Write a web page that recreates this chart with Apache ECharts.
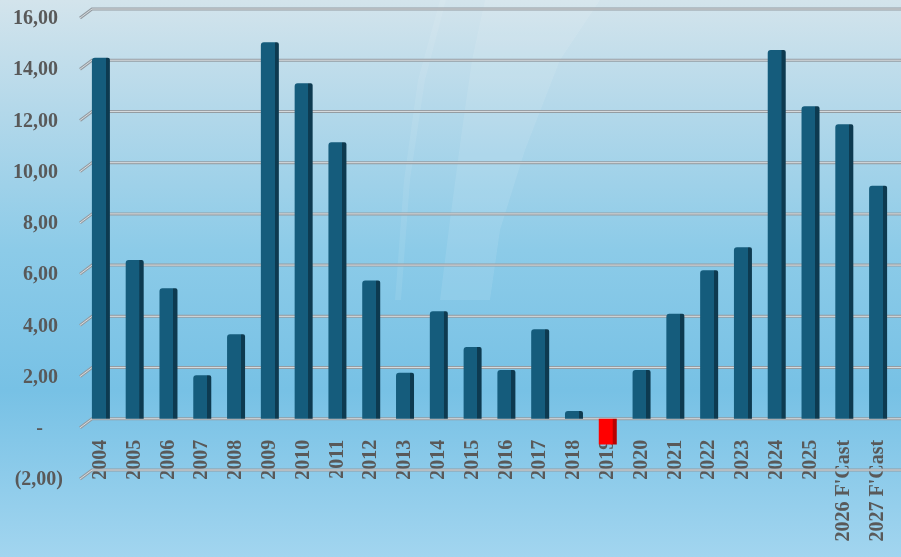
<!DOCTYPE html>
<html>
<head>
<meta charset="utf-8">
<script src="https://cdn.jsdelivr.net/npm/echarts@6/dist/echarts.min.js"></script>
<style>
  html, body { margin: 0; padding: 0; }
  #chart { width: 901px; height: 557px; }
</style>
</head>
<body>
<div id="chart"></div>
<script>
var years = ['2004', '2005', '2006', '2007', '2008', '2009', '2010', '2011', '2012', '2013',
  '2014', '2015', '2016', '2017', '2018', '2019', '2020', '2021', '2022', '2023',
  '2024', '2025', "2026 F'Cast", "2027 F'Cast"];
var values = [14.1, 6.2, 5.1, 1.7, 3.3, 14.7, 13.1, 10.8, 5.4, 1.8,
  4.2, 2.8, 1.9, 3.5, 0.3, -1.0, 1.9, 4.1, 5.8, 6.7,
  14.4, 12.2, 11.5, 9.1];
var yTicks = [-2, 0, 2, 4, 6, 8, 10, 12, 14, 16];

var myChart = echarts.init(document.getElementById('chart'));

var gridTop = 9, gridBottom = 87;
var yMin = -2, yMax = 16;
// category labels sit under the zero line, not under the bottom of the grid
var plotH = 557 - gridTop - gridBottom;
var zeroShift = plotH * (0 - yMin) / (yMax - yMin);

// front face + darker right side, so the bars look a bit 3D
let face = (front, side) => new echarts.graphic.LinearGradient(0, 0, 1, 0, [
  { offset: 0, color: front },
  { offset: 0.76, color: front },
  { offset: 0.77, color: side },
  { offset: 1, color: side }
]);
var blue = face('#155c7c', '#0d3a50');
var red = face('#ff0000', '#b80000');

let fmt = v => {
  if (v === 0) return '-    ';
  var s = Math.abs(v).toFixed(2).replace('.', ',');
  return v < 0 ? '(' + s + ')' : s + ' ';
};

var option = {
  backgroundColor: new echarts.graphic.LinearGradient(0, 0, 0, 1, [
    { offset: 0, color: '#d3e4ec' },
    { offset: 0.2, color: '#b3d8ea' },
    { offset: 0.45, color: '#8ccbe8' },
    { offset: 0.7, color: '#77c1e5' },
    { offset: 1, color: '#a2d5ef' }
  ]),
  graphic: [{
    type: 'polygon',
    silent: true,
    z: 0,
    shape: { points: [[485, 0], [600, 0], [560, 60], [525, 150], [500, 230], [490, 300],
      [440, 300], [450, 220], [462, 130], [472, 60]] },
    style: { fill: 'rgba(255,255,255,0.09)' }
  }, {
    type: 'polygon',
    silent: true,
    z: 0,
    shape: { points: [[440, 0], [446, 0], [425, 80], [410, 180], [401, 300],
      [395, 300], [404, 180], [418, 80]] },
    style: { fill: 'rgba(255,255,255,0.08)' }
  }],
  grid: { left: 84, right: 6, top: gridTop, bottom: gridBottom, outerBoundsMode: 'none', containLabel: false },
  xAxis: {
    type: 'category',
    data: years,
    position: 'bottom',
    offset: -zeroShift,
    axisLine: { show: false, onZero: false },
    axisTick: { show: false },
    axisLabel: {
      rotate: 90,
      margin: 21,
      interval: 0,
      color: '#595959',
      fontFamily: 'Liberation Serif',
      fontWeight: 'bold',
      fontSize: 20
    }
  },
  yAxis: {
    type: 'value',
    min: yMin,
    max: yMax,
    interval: 2,
    axisLine: { show: false },
    axisTick: { show: false },
    splitLine: { show: false },
    axisLabel: {
      margin: 21,
      verticalAlign: 'top',
      color: '#595959',
      fontFamily: 'Liberation Serif',
      fontWeight: 'bold',
      fontSize: 20,
      formatter: fmt
    }
  },
  series: [{
    // gridlines with the little slanted stub at the left
    type: 'custom',
    z: 1,
    silent: true,
    clip: false,
    data: yTicks.map(v => [0, v]),
    encode: { x: 0, y: 1 },
    renderItem: (params, api) => {
      var cs = params.coordSys;
      var y = api.coord([0, api.value(1)])[1];
      var pts = [[cs.x - 4, y + 9], [cs.x + 8, y], [cs.x + cs.width + 10, y]];
      return {
        type: 'group',
        children: [
          { type: 'polyline', shape: { points: pts }, style: { stroke: '#949ca2', lineWidth: 3, fill: null } },
          { type: 'polyline', shape: { points: pts }, style: { stroke: '#d9dde0', lineWidth: 1, fill: null } }
        ]
      };
    }
  }, {
    type: 'bar',
    z: 2,
    barWidth: 18,
    itemStyle: { color: blue, borderRadius: [3, 2, 0, 0] },
    data: values.map(v => v < 0 ? { value: v, itemStyle: { color: red, borderRadius: 0 } } : v)
  }]
};

myChart.setOption(option);
window.addEventListener('resize', function() {
  myChart.resize();
});
</script>
</body>
</html>
